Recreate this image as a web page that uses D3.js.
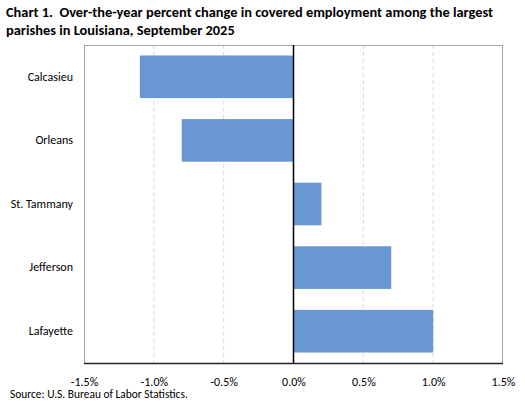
<!DOCTYPE html>
<html>
<head>
<meta charset="utf-8">
<script src="https://cdn.jsdelivr.net/npm/d3@7"></script>
<style>
  body { margin: 0; background: #fff; }
  svg { display: block; font-family: Carlito, Calibri, Lato, "Open Sans", sans-serif; }
</style>
</head>
<body>
<div id="chart"></div>
<script>
const parishes = ['Calcasieu', 'Orleans', 'St. Tammany', 'Jefferson', 'Lafayette']
const changes = [-1.1, -0.8, 0.2, 0.7, 1.0]
const ticks = [-1.5, -1.0, -0.5, 0.0, 0.5, 1.0, 1.5]

const width = 525, height = 403
const margin = {top: 45, right: 22, bottom: 40, left: 84}

const svg = d3.select('#chart')
    .append('svg')
    .attr('width', width)
    .attr('height', height)

svg.append('text')
    .attr('x', 6).attr('y', 17)
    .attr('font-size', '14.4px').attr('font-weight', 'bold')
    .attr('fill', '#000')
    .attr('xml:space', 'preserve')
    .text('Chart 1.  Over-the-year percent change in covered employment among the largest')
svg.append('text')
    .attr('x', 6).attr('y', 35)
    .attr('font-size', '14.4px').attr('font-weight', 'bold')
    .attr('fill', '#000')
    .text('parishes in Louisiana, September 2025')

const x = d3.scaleLinear()
    .domain([-1.5, 1.5])
    .range([margin.left, width - margin.right])
const y = d3.scaleBand()
    .domain(parishes)
    .range([margin.top, height - margin.bottom])
    .paddingInner(0.33)
    .paddingOuter(0.165)

const plot = svg.append('g')

// dashed vertical gridlines
plot.selectAll('line.grid')
    .data(ticks.filter(t => t !== 0 && Math.abs(t) !== 1.5))
    .enter().append('line')
    .attr('class', 'grid')
    .attr('x1', d => x(d)).attr('x2', d => x(d))
    .attr('y1', margin.top).attr('y2', height - margin.bottom)
    .attr('stroke', '#d9d9d9')
    .attr('stroke-dasharray', '4,3')

// plot border
plot.append('rect')
    .attr('x', x(-1.5) + 0.5).attr('y', margin.top + 0.5)
    .attr('width', x(1.5) - x(-1.5) - 1)
    .attr('height', height - margin.bottom - margin.top)
    .attr('fill', 'none')
    .attr('stroke', '#a6a6a6')

plot.selectAll('rect.bar')
    .data(changes)
    .enter().append('rect')
    .attr('class', 'bar')
    .attr('x', d => x(Math.min(0, d)))
    .attr('width', d => Math.abs(x(d) - x(0)))
    .attr('y', (d, i) => y(parishes[i]))
    .attr('height', y.bandwidth())
    .attr('fill', '#6897d3')

// zero line
plot.append('line')
    .attr('x1', x(0)).attr('x2', x(0))
    .attr('y1', margin.top).attr('y2', height - margin.bottom)
    .attr('stroke', '#000').attr('stroke-width', 1.5)

// bottom axis line
plot.append('line')
    .attr('x1', x(-1.5)).attr('x2', x(1.5))
    .attr('y1', height - margin.bottom + 0.5).attr('y2', height - margin.bottom + 0.5)
    .attr('stroke', '#262626').attr('stroke-width', 1.5)

const xAxis = svg.append('g')
    .attr('transform', `translate(0, ${height - margin.bottom})`)
    .call(d3.axisBottom(x).tickValues(ticks).tickSize(0).tickPadding(14)
        .tickFormat(d => d3.format('.1f')(d).replace('−', '-') + '%'))
xAxis.select('.domain').remove()
xAxis.selectAll('text').attr('font-size', '12px').attr('fill', '#000')
    .style('font-family', 'Carlito, Calibri, Lato, "Open Sans", sans-serif')

const yAxis = svg.append('g')
    .attr('transform', `translate(${margin.left}, 0)`)
    .call(d3.axisLeft(y).tickSize(0).tickPadding(11))
yAxis.select('.domain').remove()
yAxis.selectAll('text').attr('font-size', '12px').attr('fill', '#000')
    .style('font-family', 'Carlito, Calibri, Lato, "Open Sans", sans-serif')

svg.append('text')
    .attr('x', 10).attr('y', 398)
    .attr('font-size', '11.4px').attr('fill', '#000')
    .text('Source: U.S. Bureau of Labor Statistics.')
</script>
</body>
</html>
